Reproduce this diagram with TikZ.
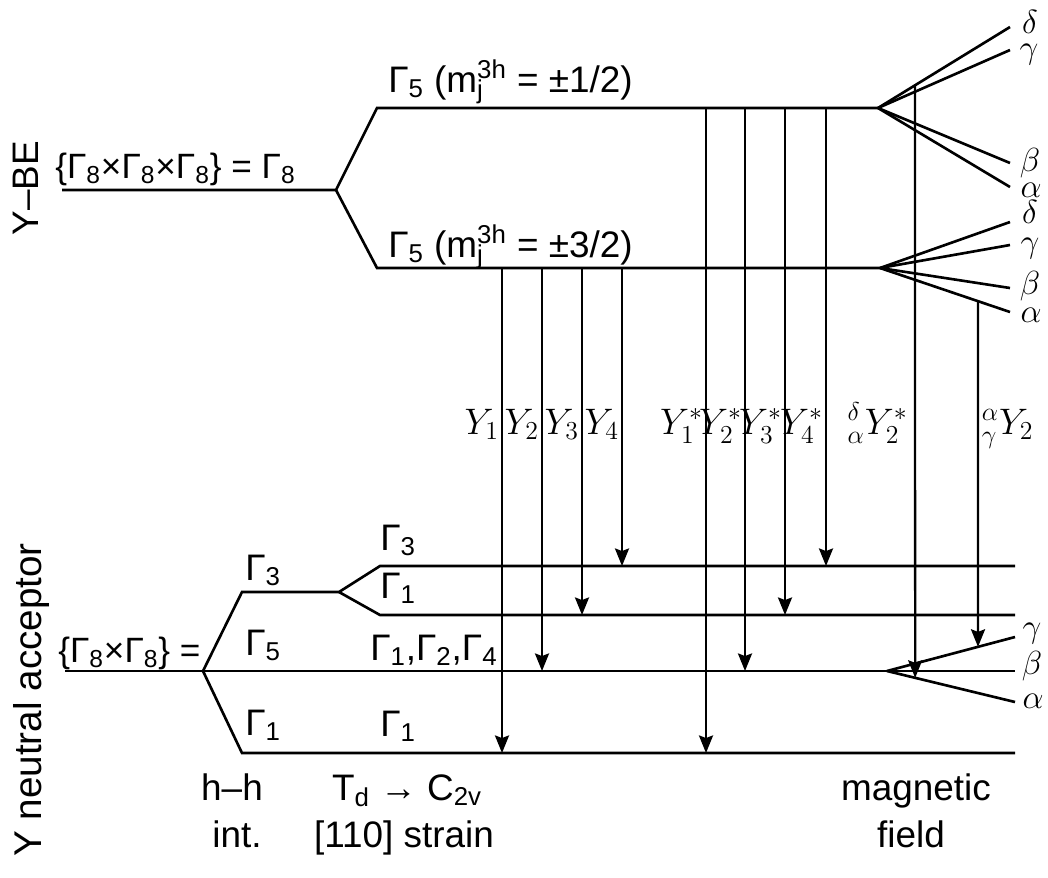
\RequirePackage{fix-cm}
\documentclass[tikz,border=0pt]{standalone}
\usepackage{fontspec}
\setmainfont{Liberation Sans}
\usetikzlibrary{arrows.meta, calc}
\newcommand{\Gm}[1]{Γ\textsubscript{#1}}
\newcommand{\mjh}{m\rlap{\textsubscript{j}}\textsuperscript{3h}}

\begin{document}
\begin{tikzpicture}[x=0.02cm, y=-0.02cm,
    level/.style={line width=1.5pt},
    trans/.style={line width=1.3pt, -{Stealth[length=10pt, width=8pt, inset=1.5pt]}},
    lab/.style={font=\fontsize{21}{25}\selectfont, inner sep=0pt},
    ylab/.style={font=\fontsize{21}{25}\selectfont, inner sep=0pt},
    glab/.style={font=\fontsize{19}{23}\selectfont, inner sep=0pt}]
  \useasboundingbox (0,0) rectangle (1048,877);

  % Y-BE levels
  \coordinate (be0) at (62,190);
  \coordinate (besp) at (336,190);
  \coordinate (up0) at (377,108);
  \coordinate (up1) at (878,108);
  \coordinate (lo0) at (377,268);
  \coordinate (lo1) at (880,268);
  \draw[level] (be0) -- (besp) -- (up0) -- (up1);
  \draw[level] (besp) -- (lo0) -- (lo1);

  % Zeeman fans of the Y-BE
  \foreach \n/\yy in {ud/27, ug/50, ub/163, ua/187} {
    \coordinate (\n) at (1010,\yy);
    \draw[level] (up1) -- (\n);
  }
  \foreach \n/\yy in {ld/222, lg/245, lb/288, la/312} {
    \coordinate (\n) at (1010,\yy);
    \draw[level] (lo1) -- (\n);
  }

  % acceptor levels
  \coordinate (ac0) at (65,671);
  \coordinate (acsp) at (203,671);
  \coordinate (acf) at (887,671);
  \coordinate (g3a) at (242,592);
  \coordinate (g3b) at (339,592);
  \coordinate (s3a) at (380,566);
  \coordinate (s3b) at (1015,566);
  \coordinate (s1a) at (380,615);
  \coordinate (s1b) at (1015,615);
  \coordinate (g1a) at (242,753);
  \coordinate (g1b) at (1015,753);
  \draw[level] (ac0) -- (acf);
  \draw[level] (acsp) -- (g3a) -- (g3b) -- (s3a) -- (s3b);
  \draw[level] (g3b) -- (s1a) -- (s1b);
  \draw[level] (acsp) -- (g1a) -- (g1b);

  % Zeeman fan of the acceptor
  \foreach \n/\yy in {aga/637, abe/671, aal/702} {
    \coordinate (\n) at (1015,\yy);
    \draw[level] (acf) -- (\n);
  }

  % transitions
  \foreach \xx/\k/\tg in {502/1/g1a, 542/2/ac0, 582/3/s1a, 622/4/s3a} {
    \coordinate (Y\k) at (\xx,434);
    \draw[trans] (Y\k |- lo0) -- (Y\k |- \tg);
    \node[ylab, anchor=base east] (lY\k) at ([xshift=-1.5pt]Y\k) {$Y_{\k}$};
  }
  \foreach \xx/\k/\tg in {706/1/g1a, 745/2/ac0, 785/3/s1a, 826/4/s3a} {
    \coordinate (S\k) at (\xx,434);
    \draw[trans] (S\k |- up0) -- (S\k |- \tg);
    \node[ylab, anchor=base east] (lS\k) at ([xshift=-1.5pt]S\k) {$Y^{*}_{\k}$};
  }
  \coordinate (dYs) at ($(up1)!0.28!(ud)$);
  \coordinate (dYe) at ($(acf)!0.22!(aal)$);
  \draw[trans] (dYs) -- (dYe);
  \node[ylab, anchor=base east] (ldY) at ([xshift=-4pt]dYs |- Y1) {${}^{\delta}_{\alpha}Y^{*}_{2}$};
  \coordinate (aYs) at ($(lo1)!0.754!(la)$);
  \coordinate (aYe) at ($(acf)!0.711!(aga)$);
  \draw[trans] (aYs) -- (aYe);
  \node[ylab, anchor=base west] (laY) at ([xshift=2pt]aYs |- Y1) {${}^{\alpha}_{\gamma}Y_{2}$};

  % Greek labels
  \node[glab] (tud) at (1030,22) {$\delta$};
  \node[glab] (tug) at (1029,55) {$\gamma$};
  \node[glab] (tub) at (1030,163) {$\beta$};
  \node[glab] (tua) at (1031,190) {$\alpha$};
  \node[glab] (tld) at (1030,212) {$\delta$};
  \node[glab] (tlg) at (1030,249) {$\gamma$};
  \node[glab] (tlb) at (1030,286) {$\beta$};
  \node[glab] (tla) at (1031,315) {$\alpha$};
  \node[glab] (tag) at (1032,634) {$\gamma$};
  \node[glab] (tab) at (1032,666) {$\beta$};
  \node[glab] (taa) at (1033,701) {$\alpha$};

  % level labels
  \node[lab, rotate=90] (beT) at (26,188) {Y–BE};
  \node[lab, anchor=base west, font=\fontsize{20}{24}\selectfont] (beL) at (55,178) {\{\Gm8×\Gm8×\Gm8\} = \Gm8};
  \node[lab, anchor=base west] (upL) at (388,92) {\Gm5 (\mjh\ = ±1/2)};
  \node[lab, anchor=base west] (loL) at (388,257) {\Gm5 (\mjh\ = ±3/2)};
  \node[lab, rotate=90, font=\fontsize{22}{26}\selectfont] (acT) at (32,700) {Y neutral acceptor};
  \node[lab, anchor=base west, font=\fontsize{20}{24}\selectfont] (acL) at (58,662) {\{\Gm8×\Gm8\} =};
  \node[lab, anchor=base west] (h3) at (245,580) {\Gm3};
  \node[lab, anchor=base west] (h5) at (245,655) {\Gm5};
  \node[lab, anchor=base west] (h1) at (245,735) {\Gm1};
  \node[lab, anchor=base west] (c3) at (380,550) {\Gm3};
  \node[lab, anchor=base west] (c1) at (380,598) {\Gm1};
  \node[lab, anchor=base west] (c124) at (370,660) {\Gm1,\Gm2,\Gm4};
  \node[lab, anchor=base west] (c1b) at (380,736) {\Gm1};

  % bottom captions
  \node[lab, anchor=base] (hh) at (232,800) {h–h};
  \node[lab, anchor=base] (int) at (237,847) {int.};
  \node[lab, anchor=base] (td) at (407,800) {T\textsubscript{d} → C\textsubscript{2v}};
  \node[lab, anchor=base] (str) at (404,847) {[110] strain};
  \node[lab, anchor=base] (mag) at (916,800) {magnetic};
  \node[lab, anchor=base] (fld) at (911,847) {field};
\end{tikzpicture}
\end{document}
